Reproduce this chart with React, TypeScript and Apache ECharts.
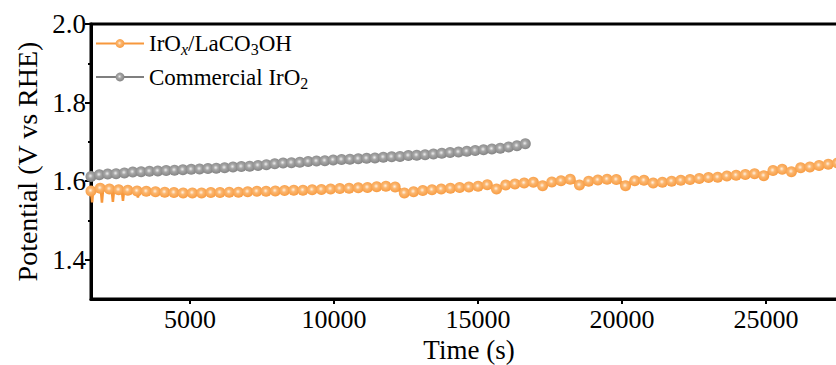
import React, { useEffect, useRef } from "react";
import * as echarts from "echarts";

const SERIES_NAMES = ["IrOx/LaCO3OH", "Commercial IrO2"];

const IROX_TIME = [
  1560, 1880, 2200, 2520, 2840, 3160, 3480, 3800, 4120, 4440, 4760, 5080, 5400, 5720,
  6040, 6360, 6680, 7000, 7320, 7640, 7960, 8280, 8600, 8920, 9240, 9560, 9880, 10200,
  10520, 10840, 11160, 11480, 11800, 12120, 12440, 12760, 13080, 13400, 13720, 14040,
  14360, 14680, 15000, 15320, 15640, 15960, 16280, 16600, 16920, 17240, 17560, 17880,
  18200, 18520, 18840, 19160, 19480, 19800, 20120, 20440, 20760, 21080, 21400, 21720,
  22040, 22360, 22680, 23000, 23320, 23640, 23960, 24280, 24600, 24920, 25240, 25560,
  25880, 26200, 26520, 26840, 27160, 27480, 27800, 28120,
];
const IROX_POTENTIAL = [
  1.575, 1.582, 1.58, 1.578, 1.577, 1.575, 1.574, 1.573, 1.572, 1.571, 1.57, 1.57, 1.57,
  1.571, 1.571, 1.572, 1.572, 1.573, 1.574, 1.574, 1.575, 1.576, 1.577, 1.577, 1.578,
  1.579, 1.58, 1.581, 1.582, 1.583, 1.584, 1.586, 1.587, 1.585, 1.57, 1.573, 1.576,
  1.578, 1.58, 1.582, 1.584, 1.585, 1.587, 1.591, 1.58, 1.59, 1.593, 1.595, 1.597,
  1.588, 1.598, 1.601, 1.605, 1.59, 1.6, 1.603, 1.605, 1.604, 1.588, 1.601, 1.602,
  1.595, 1.597, 1.6, 1.602, 1.604, 1.607, 1.609, 1.61, 1.613, 1.615, 1.617, 1.619,
  1.614, 1.627, 1.63, 1.624, 1.634, 1.636, 1.64, 1.643, 1.646, 1.648, 1.65,
];
// raw-signal spikes at the start of the IrOx/LaCO3OH trace
const IROX_NOISE_TIME = [
  1560, 1600, 1640, 1900, 1940, 1980, 2280, 2320, 2360, 2630, 2670, 2710, 3150, 3190, 3230,
];
const IROX_NOISE_POTENTIAL = [
  1.575, 1.546, 1.582, 1.581, 1.545, 1.58, 1.579, 1.547, 1.578, 1.577, 1.55, 1.577, 1.575, 1.558, 1.575,
];

const IRO2_TIME = [
  1560, 1850, 2140, 2430, 2720, 3010, 3300, 3590, 3880, 4170, 4460, 4750, 5040, 5330,
  5620, 5910, 6200, 6490, 6780, 7070, 7360, 7650, 7940, 8230, 8520, 8810, 9100, 9390,
  9680, 9970, 10260, 10550, 10840, 11130, 11420, 11710, 12000, 12290, 12580, 12870,
  13160, 13450, 13740, 14030, 14320, 14610, 14900, 15190, 15480, 15770, 16060, 16350, 16640,
];
const IRO2_POTENTIAL = [
  1.612, 1.616, 1.618, 1.619, 1.621, 1.623, 1.624, 1.625, 1.626, 1.627, 1.628, 1.629,
  1.63, 1.631, 1.632, 1.633, 1.634, 1.636, 1.637, 1.638, 1.64, 1.642, 1.644, 1.646,
  1.647, 1.648, 1.65, 1.651, 1.652, 1.654, 1.655, 1.656, 1.657, 1.658, 1.659, 1.661,
  1.662, 1.663, 1.665, 1.666, 1.667, 1.669, 1.671, 1.673, 1.674, 1.676, 1.678, 1.68,
  1.682, 1.684, 1.687, 1.69, 1.695,
];

const X_TICKS = [5000, 10000, 15000, 20000, 25000];
const Y_TICKS = [1.4, 1.6, 1.8, 2.0];
const Y_MINOR_TICKS = [1.5, 1.7, 1.9];

const FONT = "'Liberation Serif', 'Times New Roman', serif";
const ORANGE = "#f7983c";
const GRAY = "#7f7f7f";

function pairs(t: number[], v: number[]) {
  return t.map((x, i) => [x, v[i]]);
}

export default function App() {
  const ref = useRef<HTMLDivElement>(null);
  useEffect(() => {
    if (!ref.current) return;
    const chart = echarts.init(ref.current, null, { renderer: "svg" });
    const ball = (light: string, mid: string, dark: string) =>
      new echarts.graphic.RadialGradient(0.45, 0.45, 0.6, [
        { offset: 0, color: light },
        { offset: 0.35, color: mid },
        { offset: 1, color: dark },
      ]);
    chart.setOption({
      animation: false,
      backgroundColor: "#ffffff",
      grid: {
        left: 91,
        top: 24,
        bottom: 66,
        right: -11,
        show: true,
        borderColor: "#000",
        borderWidth: 3,
        backgroundColor: "transparent",
        containLabel: false,
        outerBoundsMode: "none",
      },
      legend: {
        data: SERIES_NAMES,
        orient: "vertical",
        left: 95,
        top: 32,
        padding: 0,
        itemWidth: 48,
        itemHeight: 11,
        itemGap: 8,
        formatter: (name: string) =>
          name === SERIES_NAMES[0] ? "IrO{subi|x}/LaCO{sub|3}OH" : "Commercial IrO{sub|2}",
        textStyle: {
          fontSize: 23,
          fontFamily: FONT,
          color: "#000",
          rich: {
            sub: { fontSize: 16, fontFamily: FONT, color: "#000", padding: [12, 0, 0, 0] },
            subi: { fontSize: 16, fontFamily: FONT, fontStyle: "italic", color: "#000", padding: [12, 0, 0, 0] },
          },
        },
      },
      xAxis: {
        type: "value",
        min: 1560,
        max: 27810,
        name: "Time (s)",
        nameLocation: "middle",
        nameGap: 33,
        nameTextStyle: { fontSize: 27, fontFamily: FONT, color: "#000" },
        axisLine: { show: true, onZero: false, lineStyle: { color: "#000", width: 3 } },
        axisTick: { show: true, customValues: X_TICKS, length: 5, lineStyle: { color: "#000", width: 2 } },
        axisLabel: {
          customValues: X_TICKS,
          fontSize: 26,
          fontFamily: FONT,
          color: "#000",
          margin: 7,
          formatter: (v: number) => String(v),
        },
        splitLine: { show: false },
      },
      yAxis: [
        {
          type: "value",
          min: 1.3,
          max: 2.0,
          position: "left",
          name: "Potential (V vs RHE)",
          nameLocation: "middle",
          nameGap: 48,
          nameTextStyle: { fontSize: 28, fontFamily: FONT, color: "#000" },
          axisLine: { show: true, onZero: false, lineStyle: { color: "#000", width: 3 } },
          axisTick: { show: true, customValues: Y_TICKS, length: 6, lineStyle: { color: "#000", width: 2 } },
          axisLabel: {
            customValues: Y_TICKS,
            fontSize: 27,
            fontFamily: FONT,
            color: "#000",
            margin: 5,
            formatter: (v: number) => v.toFixed(1),
          },
          splitLine: { show: false },
        },
        {
          type: "value",
          min: 1.3,
          max: 2.0,
          position: "left",
          axisLine: { show: false },
          axisTick: { show: true, customValues: Y_MINOR_TICKS, length: 3, lineStyle: { color: "#000", width: 2 } },
          axisLabel: { show: false },
          splitLine: { show: false },
        },
      ],
      series: [
        {
          name: "noise",
          type: "line",
          data: pairs(IROX_NOISE_TIME, IROX_NOISE_POTENTIAL),
          showSymbol: false,
          symbol: "none",
          lineStyle: { color: ORANGE, width: 2.5 },
          silent: true,
          z: 1,
        },
        {
          name: SERIES_NAMES[0],
          type: "line",
          data: pairs(IROX_TIME, IROX_POTENTIAL),
          symbol: "circle",
          symbolSize: 11,
          color: ORANGE,
          lineStyle: { color: ORANGE, width: 4 },
          itemStyle: { color: ball("#fff2e4", "#fbb66f", ORANGE), borderWidth: 0 },
          z: 2,
        },
        {
          name: SERIES_NAMES[1],
          type: "line",
          data: pairs(IRO2_TIME, IRO2_POTENTIAL),
          symbol: "circle",
          symbolSize: 11,
          color: GRAY,
          lineStyle: { color: GRAY, width: 4 },
          itemStyle: { color: ball("#eeeeee", "#a6a6a6", GRAY), borderWidth: 0 },
          z: 3,
        },
      ],
    });
    return () => chart.dispose();
  }, []);
  return (
    <div
      ref={ref}
      style={{ position: "absolute", left: 0, top: 0, width: 836, height: 365 }}
    />
  );
}
